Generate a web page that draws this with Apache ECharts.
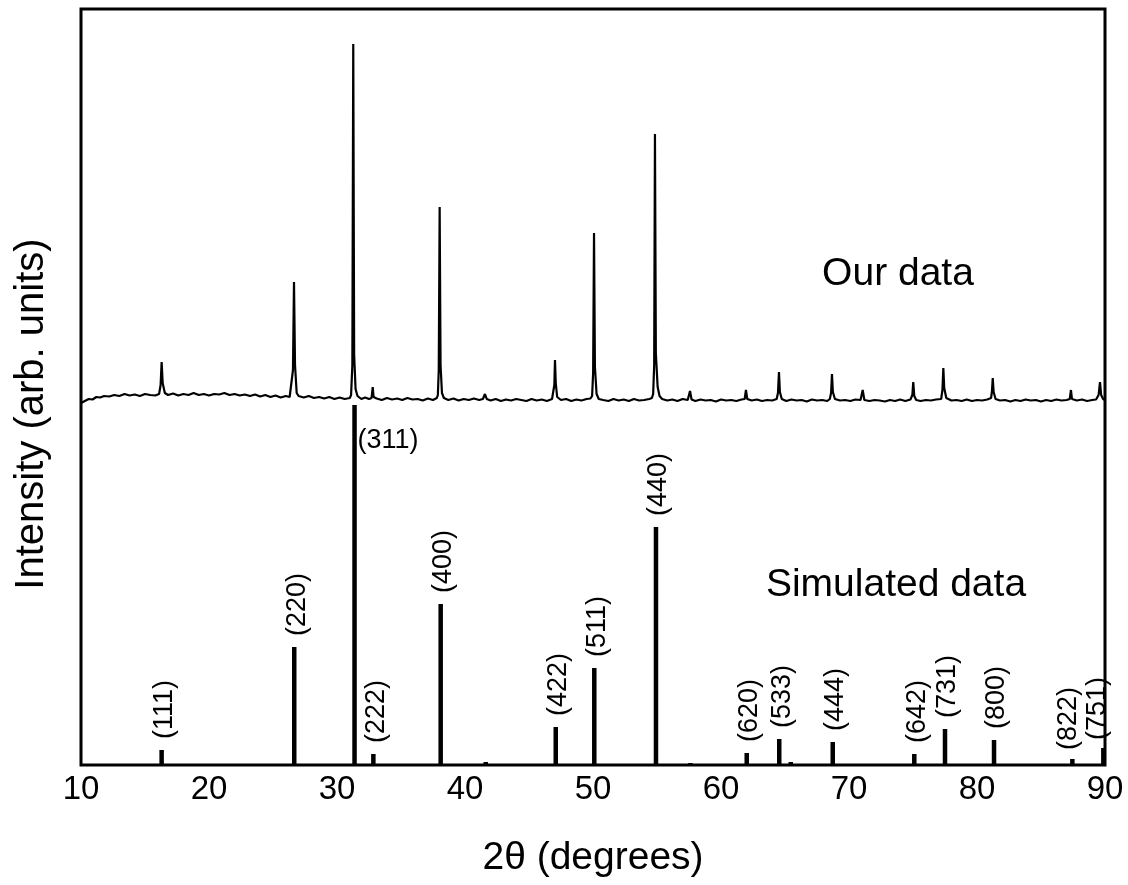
<!DOCTYPE html>
<html>
<head>
<meta charset="utf-8">
<script src="https://cdn.jsdelivr.net/npm/echarts@6/dist/echarts.min.js"></script>
<style>
html,body{margin:0;padding:0;background:#fff;}
#chart{width:1128px;height:885px;}
</style>
</head>
<body>
<div id="chart"></div>
<script>
// ---- Data (intensity in arbitrary units) ----
// Simulated stick pattern: 2-theta positions, intensities and Miller indices
const simTheta = [16.30, 26.66, 31.37, 32.84, 38.10, 41.62, 47.09, 50.10, 54.92, 57.61, 62.01, 64.55, 65.45, 68.73, 75.10, 77.50, 81.33, 87.45, 89.87];
const simIntensity = [15, 118, 360, 11, 161, 3, 38, 97, 238, 2, 12, 26, 3, 23, 11, 36, 25, 6, 17];
const simHKL = ['(111)', '(220)', '(311)', '(222)', '(400)', '', '(422)', '(511)', '(440)', '', '(620)', '(533)', '', '(444)', '(642)', '(731)', '(800)', '(822)', '(751)'];

// Measured pattern (our data): [2theta, intensity]
const obsData = [
  [10.0,362],[10.3,364],[10.6,366],[10.9,365.5],[11.2,368],[11.5,367.5],[11.8,369],[12.2,368.5],[12.6,370],[13.0,369],
  [13.4,371],[13.8,369.5],[14.2,370.5],[14.6,369],[15.0,371],[15.4,370],[15.8,369.5],[16.1,371],[16.22,380],[16.30,403],
  [16.38,382],[16.55,372],[16.8,370],[17.2,371.5],[17.6,369.5],[18.0,371],[18.4,370],[18.8,372],[19.2,370],[19.6,371],
  [20.0,369.5],[20.4,371],[20.8,370.5],[21.2,372],[21.6,370],[22.0,371],[22.4,369.5],[22.8,370.5],[23.2,369],[23.6,370.5],
  [24.0,368.5],[24.4,370],[24.8,368],[25.2,369.5],[25.6,367.5],[26.0,369],[26.3,368],[26.45,370],[26.56,395],[26.64,483],
  [26.72,400],[26.85,372],[27.0,369],[27.4,367.5],[27.8,369],[28.2,367],[28.6,368],[29.0,366.5],[29.4,368],[29.8,366],
  [30.2,367.5],[30.6,366],[31.0,367],[31.1,370],[31.2,400],[31.27,721],[31.34,410],[31.45,376],[31.6,369],[31.9,366],
  [32.2,367.5],[32.5,366],[32.7,367],[32.79,378],[32.86,368],[33.1,366.5],[33.5,365],[33.9,367],[34.3,365.5],[34.7,366.5],
  [35.1,365],[35.5,367],[35.9,365.5],[36.3,366],[36.7,364.5],[37.1,366.5],[37.5,365],[37.8,367],[37.88,370],[37.95,395],
  [38.02,558],[38.09,400],[38.2,372],[38.35,367],[38.7,365],[39.1,366.5],[39.5,364.5],[39.9,366],[40.3,365],[40.7,366.5],
  [41.1,365],[41.4,366],[41.56,371],[41.7,366],[42.0,364.5],[42.4,366],[42.8,364],[43.2,365.5],[43.6,364.5],[44.0,366],
  [44.4,365],[44.8,364],[45.2,366],[45.6,364.5],[46.0,365.5],[46.4,364],[46.8,366],[46.92,367],[46.98,380],[47.03,405],
  [47.09,382],[47.2,368],[47.5,365],[47.9,366],[48.3,364],[48.7,365.5],[49.1,364.5],[49.5,366],[49.8,366.5],[49.93,369],
  [50.01,392],[50.08,532],[50.15,398],[50.28,371],[50.45,366],[50.8,365],[51.2,364],[51.6,366],[52.0,364.5],[52.4,365.5],
  [52.8,364],[53.2,366],[53.6,364.5],[54.0,365],[54.4,366],[54.6,367],[54.7,371],[54.78,400],[54.84,631],[54.91,412],
  [55.05,378],[55.2,369],[55.4,366],[55.8,364.5],[56.2,365.5],[56.6,364],[57.0,366],[57.4,365],[57.58,374],[57.7,365.5],
  [58.0,364],[58.4,365.5],[58.8,364.5],[59.2,365],[59.6,363.5],[60.0,365.5],[60.4,364.5],[60.8,365],[61.2,364],[61.6,365.5],
  [61.85,366],[61.95,375],[62.05,366],[62.4,364.5],[62.8,365.5],[63.2,364],[63.6,365],[64.0,364.5],[64.35,366],[64.45,372],
  [64.53,393],[64.6,373],[64.75,366],[65.1,364],[65.5,365.5],[65.9,364.5],[66.3,365],[66.7,363.5],[67.1,365.5],[67.5,364.5],
  [67.9,365],[68.3,364],[68.5,366],[68.6,372],[68.67,391],[68.74,373],[68.9,366],[69.3,364.5],[69.7,365],[70.1,364],
  [70.5,365.5],[70.9,365],[71.07,375],[71.2,365],[71.6,364],[72.0,365],[72.4,364.5],[72.8,363.5],[73.2,365],[73.6,364],
  [74.0,365.5],[74.4,364],[74.8,365.5],[74.95,370],[75.02,383],[75.1,369],[75.25,365],[75.6,364],[76.0,365],[76.4,364.5],
  [76.8,365.5],[77.2,366],[77.3,375],[77.37,397],[77.44,377],[77.6,367],[78.0,364.5],[78.4,365],[78.8,364],[79.2,365.5],
  [79.6,364],[80.0,365],[80.4,364.5],[80.8,365.5],[81.1,367],[81.17,374],[81.23,387],[81.3,373],[81.45,366],[81.8,364.5],
  [82.2,365],[82.6,363.5],[83.0,365],[83.4,364],[83.8,365.5],[84.2,364.5],[84.6,365],[85.0,363.5],[85.4,365],[85.8,364],
  [86.2,365.5],[86.6,364.5],[87.0,365],[87.25,366],[87.34,375],[87.42,366],[87.8,364.5],[88.2,365.5],[88.6,364],[89.0,365],
  [89.3,365.5],[89.5,370],[89.61,383],[89.7,370],[89.85,366],[90.0,365]
];

const xTicks = [10, 20, 30, 40, 50, 60, 70, 80, 90];

// ---- Chart ----
const FONT = '"Liberation Sans", Arial, sans-serif';
const chart = echarts.init(document.getElementById('chart'), null, {renderer: 'canvas'});

const labelTweaks = {
  '(311)': {horizontal: true, dx: 3, dy: 22},
  '(822)': {dx: -4, gap: 9},
  '(751)': {dx: -6, gap: 8}
};

const simData = simTheta.map((t, i) => [t, simIntensity[i]]);
const LABEL_FONT = '27px ' + FONT;

chart.setOption({
  animation: false,
  backgroundColor: '#fff',
  grid: {left: 81, right: 23, top: 9, bottom: 120, show: true, borderColor: '#000', borderWidth: 3, backgroundColor: 'transparent'},
  xAxis: {
    type: 'value', min: 10, max: 90, interval: 10,
    name: '2θ (degrees)', nameLocation: 'middle', nameGap: 74,
    nameTextStyle: {fontFamily: FONT, fontSize: 39, color: '#000'},
    axisLine: {show: false}, axisTick: {show: false}, splitLine: {show: false},
    axisLabel: {fontFamily: FONT, fontSize: 33, color: '#000', margin: 8,
      formatter: v => xTicks.includes(v) ? String(v) : ''}
  },
  yAxis: {
    type: 'value', min: 0, max: 756,
    axisLine: {show: false}, axisTick: {show: false}, splitLine: {show: false}, axisLabel: {show: false}
  },
  graphic: [
    {type: 'text', x: 32, y: 414, rotation: Math.PI / 2,
      style: {text: 'Intensity (arb. units)', font: '40px ' + FONT, fill: '#000', align: 'center', verticalAlign: 'middle'}},
    {type: 'text', x: 898, y: 274,
      style: {text: 'Our data', font: '39px ' + FONT, fill: '#000', align: 'center', verticalAlign: 'middle'}},
    {type: 'text', x: 896, y: 585,
      style: {text: 'Simulated data', font: '39px ' + FONT, fill: '#000', align: 'center', verticalAlign: 'middle'}}
  ],
  series: [
    {
      name: 'Our data', type: 'line', data: obsData, showSymbol: false, symbol: 'none',
      lineStyle: {color: '#000', width: 2.2}, z: 3
    },
    {
      name: 'Simulated data', type: 'custom', data: simData, z: 2,
      renderItem: function (params, api) {
        const x = api.value(0), h = api.value(1);
        const base = api.coord([x, 0]);
        const top = api.coord([x, h]);
        const w = 4.5;
        const children = [{
          type: 'rect',
          shape: {x: base[0] - w / 2, y: top[1], width: w, height: base[1] - top[1]},
          style: {fill: '#000'}
        }];
        const lab = simHKL[params.dataIndex];
        if (lab) {
          const tw = labelTweaks[lab] || {};
          if (tw.horizontal) {
            children.push({type: 'text', x: top[0] + tw.dx, y: top[1] + tw.dy,
              style: {text: lab, font: LABEL_FONT, fill: '#000', align: 'left', verticalAlign: 'top'}});
          } else {
            const dx = tw.dx != null ? tw.dx : 3;
            const gap = tw.gap != null ? tw.gap : 11;
            children.push({type: 'text', x: top[0] + dx, y: top[1] - gap, rotation: Math.PI / 2,
              style: {text: lab, font: LABEL_FONT, fill: '#000', align: 'left', verticalAlign: 'middle'}});
          }
        }
        return {type: 'group', children: children};
      }
    }
  ]
});
</script>
</body>
</html>
